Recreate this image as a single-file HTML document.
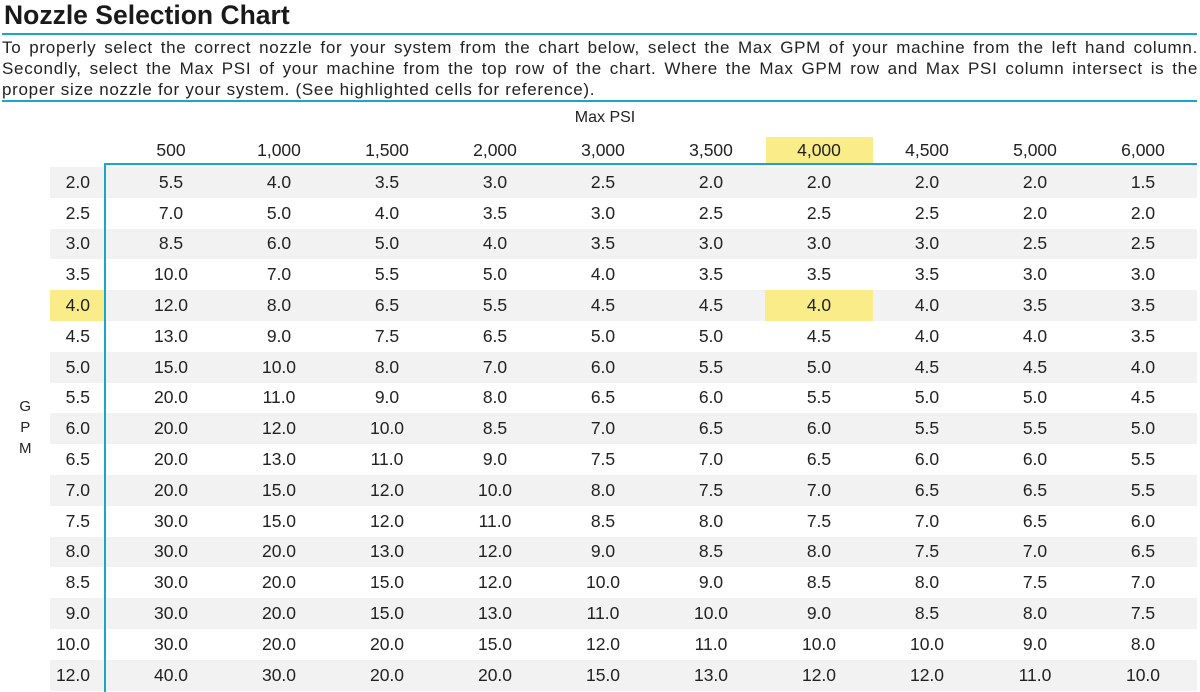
<!DOCTYPE html>
<html><head><meta charset="utf-8"><style>
body{margin:0;width:1200px;height:692px;background:#fff;font-family:"Liberation Sans",sans-serif;color:#222;position:relative;overflow:hidden}
.t{position:absolute;left:4px;top:0px;font-size:26.5px;font-weight:bold;color:#1a1a1a}
.ln{position:absolute;left:2px;width:1195px;height:2px;background:#1aa6c8}
.p{position:absolute;left:2px;top:37px;width:1196px;font-size:17px;line-height:21px;color:#222;letter-spacing:0.7px}
.p div{text-align:justify;text-align-last:justify;white-space:nowrap;overflow:visible}
.p div.l{text-align-last:left}
.mp{position:absolute;left:0;width:1200px;top:109px;text-align:center;font-size:16px;padding-left:10px;box-sizing:border-box}
.hdr{position:absolute;top:140px;left:117px;display:flex}
.hdr div,.r div.c{width:108px;text-align:center;font-size:17.5px}
.rows{position:absolute;top:167px;left:50px;width:1147px}
.r{display:flex;height:30.8px;align-items:center}
.r:nth-child(odd){background:#f2f2f2}
.g{width:40px;padding-right:14px;text-align:right;font-size:17.5px;margin-right:13px;height:100%;display:flex;align-items:center;justify-content:flex-end}
.hl{background:#fbec8a}
.vl{position:absolute;left:104px;top:163px;width:2px;height:529px;background:#1aa6c8}
.gpm{position:absolute;left:19px;top:396px;font-size:15px;line-height:21px;text-align:center}
</style></head><body>
<div class="t">Nozzle Selection Chart</div>
<div class="ln" style="top:33px"></div>
<div class="p"><div>To properly select the correct nozzle for your system from the chart below, select the Max GPM of your machine from the left hand column.</div><div>Secondly, select the Max PSI of your machine from the top row of the chart. Where the Max GPM row and Max PSI column intersect is the</div><div class="l">proper size nozzle for your system. (See highlighted cells for reference).</div></div>
<div class="ln" style="top:100px"></div>
<div class="mp">Max PSI</div>
<div style="position:absolute;left:766px;top:137px;width:107px;height:27px;background:#fbec8a"></div>
<div class="hdr"><div>500</div><div>1,000</div><div>1,500</div><div>2,000</div><div>3,000</div><div>3,500</div><div>4,000</div><div>4,500</div><div>5,000</div><div>6,000</div></div>
<div style="position:absolute;left:104px;top:163px;width:1093px;height:2px;background:#1aa6c8"></div>
<div class="rows">
<div class="r"><div class="g">2.0</div><div class="c">5.5</div><div class="c">4.0</div><div class="c">3.5</div><div class="c">3.0</div><div class="c">2.5</div><div class="c">2.0</div><div class="c">2.0</div><div class="c">2.0</div><div class="c">2.0</div><div class="c">1.5</div></div>
<div class="r"><div class="g">2.5</div><div class="c">7.0</div><div class="c">5.0</div><div class="c">4.0</div><div class="c">3.5</div><div class="c">3.0</div><div class="c">2.5</div><div class="c">2.5</div><div class="c">2.5</div><div class="c">2.0</div><div class="c">2.0</div></div>
<div class="r"><div class="g">3.0</div><div class="c">8.5</div><div class="c">6.0</div><div class="c">5.0</div><div class="c">4.0</div><div class="c">3.5</div><div class="c">3.0</div><div class="c">3.0</div><div class="c">3.0</div><div class="c">2.5</div><div class="c">2.5</div></div>
<div class="r"><div class="g">3.5</div><div class="c">10.0</div><div class="c">7.0</div><div class="c">5.5</div><div class="c">5.0</div><div class="c">4.0</div><div class="c">3.5</div><div class="c">3.5</div><div class="c">3.5</div><div class="c">3.0</div><div class="c">3.0</div></div>
<div class="r"><div class="g hl">4.0</div><div class="c">12.0</div><div class="c">8.0</div><div class="c">6.5</div><div class="c">5.5</div><div class="c">4.5</div><div class="c">4.5</div><div class="c hl" style="height:100%;display:flex;align-items:center;justify-content:center">4.0</div><div class="c">4.0</div><div class="c">3.5</div><div class="c">3.5</div></div>
<div class="r"><div class="g">4.5</div><div class="c">13.0</div><div class="c">9.0</div><div class="c">7.5</div><div class="c">6.5</div><div class="c">5.0</div><div class="c">5.0</div><div class="c">4.5</div><div class="c">4.0</div><div class="c">4.0</div><div class="c">3.5</div></div>
<div class="r"><div class="g">5.0</div><div class="c">15.0</div><div class="c">10.0</div><div class="c">8.0</div><div class="c">7.0</div><div class="c">6.0</div><div class="c">5.5</div><div class="c">5.0</div><div class="c">4.5</div><div class="c">4.5</div><div class="c">4.0</div></div>
<div class="r"><div class="g">5.5</div><div class="c">20.0</div><div class="c">11.0</div><div class="c">9.0</div><div class="c">8.0</div><div class="c">6.5</div><div class="c">6.0</div><div class="c">5.5</div><div class="c">5.0</div><div class="c">5.0</div><div class="c">4.5</div></div>
<div class="r"><div class="g">6.0</div><div class="c">20.0</div><div class="c">12.0</div><div class="c">10.0</div><div class="c">8.5</div><div class="c">7.0</div><div class="c">6.5</div><div class="c">6.0</div><div class="c">5.5</div><div class="c">5.5</div><div class="c">5.0</div></div>
<div class="r"><div class="g">6.5</div><div class="c">20.0</div><div class="c">13.0</div><div class="c">11.0</div><div class="c">9.0</div><div class="c">7.5</div><div class="c">7.0</div><div class="c">6.5</div><div class="c">6.0</div><div class="c">6.0</div><div class="c">5.5</div></div>
<div class="r"><div class="g">7.0</div><div class="c">20.0</div><div class="c">15.0</div><div class="c">12.0</div><div class="c">10.0</div><div class="c">8.0</div><div class="c">7.5</div><div class="c">7.0</div><div class="c">6.5</div><div class="c">6.5</div><div class="c">5.5</div></div>
<div class="r"><div class="g">7.5</div><div class="c">30.0</div><div class="c">15.0</div><div class="c">12.0</div><div class="c">11.0</div><div class="c">8.5</div><div class="c">8.0</div><div class="c">7.5</div><div class="c">7.0</div><div class="c">6.5</div><div class="c">6.0</div></div>
<div class="r"><div class="g">8.0</div><div class="c">30.0</div><div class="c">20.0</div><div class="c">13.0</div><div class="c">12.0</div><div class="c">9.0</div><div class="c">8.5</div><div class="c">8.0</div><div class="c">7.5</div><div class="c">7.0</div><div class="c">6.5</div></div>
<div class="r"><div class="g">8.5</div><div class="c">30.0</div><div class="c">20.0</div><div class="c">15.0</div><div class="c">12.0</div><div class="c">10.0</div><div class="c">9.0</div><div class="c">8.5</div><div class="c">8.0</div><div class="c">7.5</div><div class="c">7.0</div></div>
<div class="r"><div class="g">9.0</div><div class="c">30.0</div><div class="c">20.0</div><div class="c">15.0</div><div class="c">13.0</div><div class="c">11.0</div><div class="c">10.0</div><div class="c">9.0</div><div class="c">8.5</div><div class="c">8.0</div><div class="c">7.5</div></div>
<div class="r"><div class="g">10.0</div><div class="c">30.0</div><div class="c">20.0</div><div class="c">20.0</div><div class="c">15.0</div><div class="c">12.0</div><div class="c">11.0</div><div class="c">10.0</div><div class="c">10.0</div><div class="c">9.0</div><div class="c">8.0</div></div>
<div class="r"><div class="g">12.0</div><div class="c">40.0</div><div class="c">30.0</div><div class="c">20.0</div><div class="c">20.0</div><div class="c">15.0</div><div class="c">13.0</div><div class="c">12.0</div><div class="c">12.0</div><div class="c">11.0</div><div class="c">10.0</div></div>
</div>
<div class="vl"></div>
<div class="gpm">G<br>P<br>M</div>
</body></html>
